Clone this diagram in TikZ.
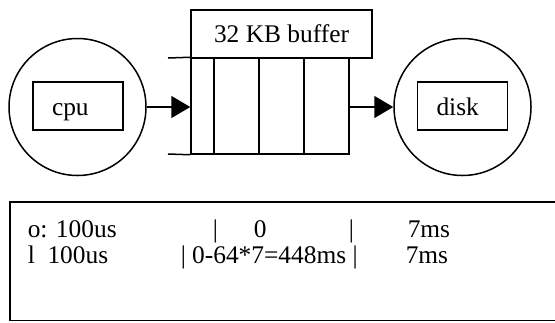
\documentclass[tikz,border=0pt]{standalone}
\usepackage{fontspec}
\setmainfont{Liberation Serif}
\usetikzlibrary{arrows.meta}

\tikzset{%
        station/.style={
                circle,
                draw,
                minimum size=68.5pt,
                inner sep=0pt
            },
        tagbox/.style={
                draw,
                minimum height=24pt,
                text width=26pt,
                inner xsep=9.5pt,
                text height=9pt,
                text depth=0pt,
                align=left
            },
        cell/.style={
                anchor=base west,
                inner sep=0pt
            },
        flow/.style={-{Triangle[length=9.5pt,width=11pt]}}
    }

\begin{document}
\begin{tikzpicture}[x=0.5pt, y=-0.5pt, line width=0.75pt,
        font=\fontsize{12.7pt}{14.6pt}\selectfont]
    \useasboundingbox (0,0) rectangle (555,322);

    % cpu and disk:
        \node [station]  (cpuring) at (77.5,107) {};
        \node [tagbox]   (cpu) at (78,106) {cpu};
        \node [station]  (diskring) at (462.5,107) {};
        \node [tagbox]   (disk) at (462.5,106) {disk};

    % buffer:
        \node [draw, minimum width=90.5pt, minimum height=24pt, inner sep=0pt]
            (title) at (281.5,34) {32 KB buffer};
        \node [draw, minimum width=79pt, minimum height=48pt, inner sep=0pt]
            (buf) at (270,106) {};
        \coordinate (topend) at (168,58);
        \coordinate (botend) at (168,154);
        \draw (topend) -- (buf.north west);
        \draw (botend) -- (buf.south west);
        \foreach \x in {214,259,304}
            \draw (\x,58) -- (\x,154);

        \draw[flow] (cpuring.east) -- (cpuring.east -| buf.west);
        \draw[flow] (buf.east |- diskring.west) -- (diskring.west);

    % times:
        \draw (556,202) -- (10,202) -- (10,320.5) -- (556,320.5);
        \node [cell]  (oa) at (27,237) {o: 100us};
        \node [cell]  (ob) at (212,237) {|};
        \node [cell]  (oc) at (253,237) {0};
        \node [cell]  (od) at (348,237) {|};
        \node [cell]  (oe) at (407,237) {7ms};
        \node [cell]  (la) at (27,263) {l\ \ 100us};
        \node [cell]  (lb) at (180,263) {| 0-64*7=448ms |};
        \node [cell]  (lc) at (405,263) {7ms};
\end{tikzpicture}
\end{document}
